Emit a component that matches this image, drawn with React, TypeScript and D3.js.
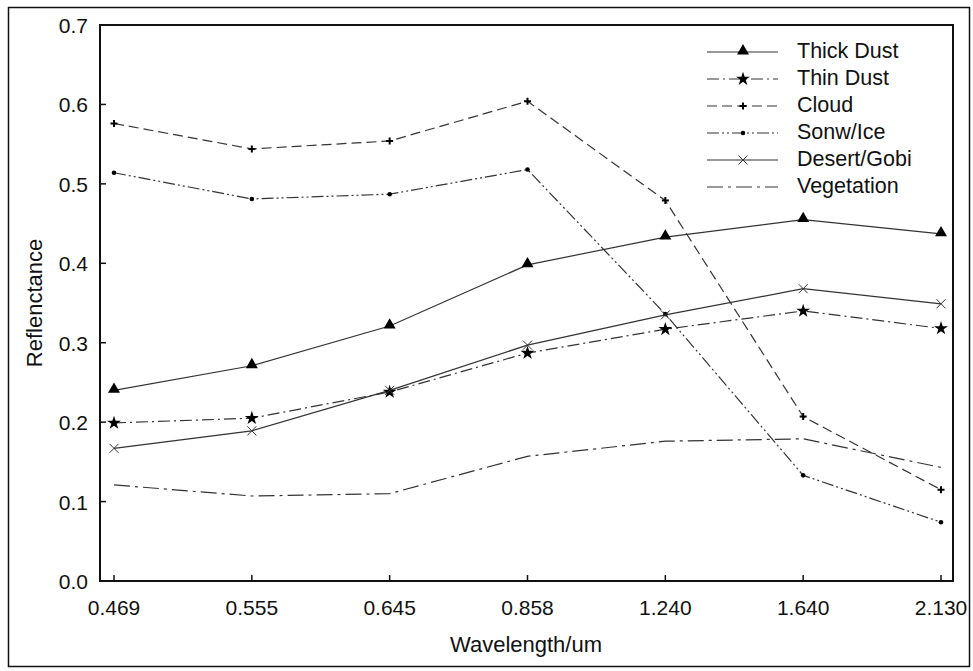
import React, { useEffect, useRef } from 'react';
import * as d3 from 'd3';

const wavelengths = ['0.469', '0.555', '0.645', '0.858', '1.240', '1.640', '2.130'];
const yTicks = [0, 0.1, 0.2, 0.3, 0.4, 0.5, 0.6, 0.7];

const thickDust = [0.240, 0.271, 0.321, 0.398, 0.433, 0.455, 0.437];
const thinDust = [0.199, 0.205, 0.238, 0.287, 0.317, 0.340, 0.318];
const cloud = [0.576, 0.544, 0.554, 0.604, 0.479, 0.207, 0.115];
const snowIce = [0.514, 0.481, 0.487, 0.518, 0.336, 0.133, 0.074];
const desertGobi = [0.167, 0.189, 0.240, 0.297, 0.335, 0.368, 0.349];
const vegetation = [0.121, 0.107, 0.110, 0.157, 0.176, 0.179, 0.143];

type Marker = 'triangle' | 'star' | 'plus' | 'dot' | 'times' | 'none';

interface Series {
  name: string;
  values: number[];
  dash: string | null;
  marker: Marker;
}

const series: Series[] = [
  { name: 'Thick Dust', values: thickDust, dash: null, marker: 'triangle' },
  { name: 'Thin Dust', values: thinDust, dash: '12,4,2,4', marker: 'star' },
  { name: 'Cloud', values: cloud, dash: '10,5', marker: 'plus' },
  { name: 'Sonw/Ice', values: snowIce, dash: '12,3,2,3,2,3', marker: 'dot' },
  { name: 'Desert/Gobi', values: desertGobi, dash: null, marker: 'times' },
  { name: 'Vegetation', values: vegetation, dash: '16,5,3,5', marker: 'none' },
];

const FONT = '"Liberation Sans", Arial, sans-serif';

const App: React.FC = () => {
  const svgRef = useRef<SVGSVGElement>(null);

  useEffect(() => {
    if (!svgRef.current) return;
    document.body.style.margin = '0';

    const plot = { left: 100, right: 953, top: 25, bottom: 581 };

    const svg = d3.select(svgRef.current);
    svg.selectAll('*').remove();

    // outer frame
    svg.append('rect')
      .attr('x', 8.5).attr('y', 7.5)
      .attr('width', 961).attr('height', 659)
      .attr('fill', 'none').attr('stroke', '#111').attr('stroke-width', 1.5);

    const x = d3.scalePoint<string>()
      .domain(wavelengths)
      .range([114, 941]);

    const y = d3.scaleLinear()
      .domain([0, 0.7])
      .range([plot.bottom, plot.top]);

    const g = svg.append('g');

    // ticks point inward
    g.selectAll('.ytick')
      .data(yTicks)
      .enter()
      .append('line')
      .attr('x1', plot.left).attr('x2', plot.left + 6)
      .attr('y1', d => y(d)).attr('y2', d => y(d))
      .attr('stroke', '#111').attr('stroke-width', 1.5);

    g.selectAll('.ylabel')
      .data(yTicks)
      .enter()
      .append('text')
      .attr('x', 88)
      .attr('y', d => y(d) + 8)
      .attr('text-anchor', 'end')
      .attr('font-family', FONT)
      .attr('font-size', 21)
      .attr('fill', '#111')
      .text(d => d.toFixed(1));

    g.selectAll('.xtick')
      .data(wavelengths)
      .enter()
      .append('line')
      .attr('x1', d => x(d)!).attr('x2', d => x(d)!)
      .attr('y1', plot.bottom).attr('y2', plot.bottom - 6)
      .attr('stroke', '#111').attr('stroke-width', 1.5);

    g.selectAll('.xlabel')
      .data(wavelengths)
      .enter()
      .append('text')
      .attr('x', d => x(d)!)
      .attr('y', 615)
      .attr('text-anchor', 'middle')
      .attr('font-family', FONT)
      .attr('font-size', 21)
      .attr('fill', '#111')
      .text(d => d);

    // axis titles
    svg.append('text')
      .attr('x', 526)
      .attr('y', 652)
      .attr('text-anchor', 'middle')
      .attr('font-family', FONT)
      .attr('font-size', 22)
      .attr('fill', '#111')
      .text('Wavelength/um');

    svg.append('text')
      .attr('transform', `translate(42,${(plot.top + plot.bottom) / 2}) rotate(-90)`)
      .attr('text-anchor', 'middle')
      .attr('font-family', FONT)
      .attr('font-size', 22)
      .attr('fill', '#111')
      .text('Reflenctance');

    const drawMarker = (sel: d3.Selection<SVGGElement, unknown, null, undefined>, m: Marker) => {
      if (m === 'triangle') {
        sel.append('path').attr('d', d3.symbol().type(d3.symbolTriangle).size(62)()!)
          .attr('transform', 'translate(0,-1)')
          .attr('fill', '#000');
      } else if (m === 'star') {
        sel.append('path').attr('d', d3.symbol().type(d3.symbolStar).size(60)()!)
          .attr('fill', '#000');
      } else if (m === 'plus') {
        sel.append('path').attr('d', 'M-3.5,0H3.5M0,-3.5V3.5')
          .attr('stroke', '#000').attr('stroke-width', 2);
      } else if (m === 'dot') {
        sel.append('circle').attr('r', 2.3).attr('fill', '#000');
      } else if (m === 'times') {
        sel.append('path').attr('d', 'M-4.5,-4.5L4.5,4.5M-4.5,4.5L4.5,-4.5')
          .attr('stroke', '#333').attr('stroke-width', 1);
      }
    };

    const line = d3.line<number>()
      .x((_, i) => x(wavelengths[i])!)
      .y(d => y(d));

    series.forEach(s => {
      g.append('path')
        .datum(s.values)
        .attr('fill', 'none')
        .attr('stroke', '#333')
        .attr('stroke-width', 1.2)
        .attr('stroke-dasharray', s.dash)
        .attr('d', line);
    });

    series.forEach(s => {
      s.values.forEach((v, i) => {
        const mg = g.append('g').attr('transform', `translate(${x(wavelengths[i])},${y(v)})`);
        drawMarker(mg, s.marker);
      });
    });

    // plot box
    svg.append('rect')
      .attr('x', plot.left).attr('y', plot.top)
      .attr('width', plot.right - plot.left).attr('height', plot.bottom - plot.top)
      .attr('fill', 'none').attr('stroke', '#111').attr('stroke-width', 2);

    // legend
    const legend = svg.append('g').attr('transform', 'translate(707,52)');
    series.forEach((s, i) => {
      const row = legend.append('g').attr('transform', `translate(0,${i * 27})`);
      row.append('line')
        .attr('x1', 0).attr('x2', 71)
        .attr('y1', 0).attr('y2', 0)
        .attr('stroke', '#333').attr('stroke-width', 1.2)
        .attr('stroke-dasharray', s.dash);
      const mg = row.append('g').attr('transform', 'translate(36,0)');
      drawMarker(mg, s.marker);
      row.append('text')
        .attr('x', 90).attr('y', 6)
        .attr('font-family', FONT)
        .attr('font-size', 21.5)
        .attr('fill', '#111')
        .text(s.name);
    });
  }, []);

  return (
    <div style={{ width: 973, height: 671, background: '#fff' }}>
      <svg ref={svgRef} width={973} height={671} style={{ display: 'block' }} />
    </div>
  );
};

export default App;
